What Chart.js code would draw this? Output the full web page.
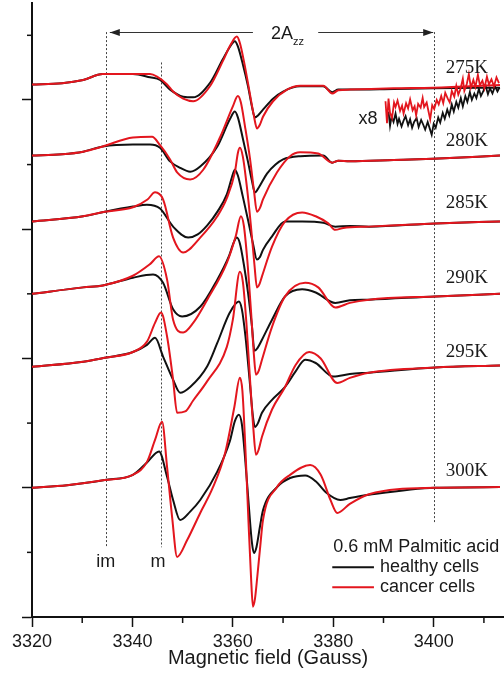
<!DOCTYPE html>
<html>
<head>
<meta charset="utf-8">
<script src="https://cdn.jsdelivr.net/npm/chart.js@4.4.1/dist/chart.umd.min.js"></script>
<style>
  html, body { margin: 0; padding: 0; background: #fff; }
</style>
</head>
<body>
<canvas id="chartEPR" width="504" height="675"></canvas>
<script>
// Datos: [campo (G), intensidad (u.a., desplazada por temperatura)]
const temperaturas = ['275K', '280K', '285K', '290K', '295K', '300K'];

const healthy275 = [[3320, 82.4], [3326, 82.6], [3330.2, 83.1], [3334.1, 84.0], [3340.1, 84.0], [3343.5, 83.5], [3345.5, 83.1], [3347.5, 81.6], [3350.1, 80.5], [3352.1, 80.4], [3355.5, 82.7], [3358.0, 86.3], [3359.4, 88.2], [3360.4, 89.1], [3361.0, 88.3], [3362.0, 85.5], [3363.0, 82.2], [3363.8, 79.0], [3364.4, 77.3], [3365.0, 77.6], [3366.0, 78.5], [3368.0, 80.2], [3370.0, 81.3], [3373.4, 82.1], [3378.0, 82.1], [3379.8, 81.2], [3381.0, 81.6], [3383.3, 81.6], [3392, 81.7], [3399.9, 81.8], [3413.2, 81.9]];
const cancer275 = [[3320, 82.4], [3326, 82.6], [3330.2, 83.1], [3334.1, 84.0], [3340.1, 84.0], [3343.5, 84.0], [3344.9, 83.6], [3346.9, 82.4], [3348.1, 81.3], [3350.1, 80.2], [3352.1, 79.8], [3355.5, 82.2], [3358.0, 86.0], [3359.6, 88.6], [3360.8, 89.8], [3361.4, 88.8], [3362.2, 86.0], [3363.2, 81.8], [3364.2, 77.5], [3364.8, 75.6], [3365.4, 76.2], [3366.0, 77.4], [3368.0, 79.8], [3370.8, 81.6], [3373.4, 82.2], [3378.0, 82.2], [3379.8, 81.0], [3381.0, 81.5], [3383.3, 81.6], [3392, 81.8], [3399.9, 81.9], [3413.2, 82.3]];

const healthy280 = [[3320, 71.4], [3326, 71.6], [3330.2, 72.0], [3334.1, 72.8], [3340.1, 73.1], [3343.5, 73.1], [3345.5, 72.6], [3347.5, 70.5], [3349.5, 69.5], [3351.5, 68.9], [3353.5, 69.7], [3356.9, 72.8], [3359.4, 77.0], [3360.4, 78.2], [3361.0, 77.3], [3362.0, 74.0], [3363.0, 70.5], [3363.8, 67.5], [3364.4, 65.7], [3365.2, 66.5], [3366.8, 68.6], [3368.5, 70.0], [3370.0, 70.8], [3373.4, 71.3], [3378.0, 71.4], [3379.8, 70.3], [3381.0, 70.6], [3383.3, 70.5], [3392, 70.7], [3399.9, 70.9], [3413.2, 71.4]];
const cancer280 = [[3320, 71.4], [3326, 71.6], [3330.2, 72.0], [3334.1, 72.8], [3340.1, 74.2], [3343.9, 74.3], [3345.5, 73.0], [3347.5, 70.8], [3348.9, 68.8], [3351.5, 67.7], [3354.1, 69.2], [3357.5, 74.3], [3360.0, 79.0], [3361.0, 80.6], [3361.6, 79.6], [3362.4, 76.0], [3363.4, 71.0], [3364.2, 66.0], [3364.8, 62.7], [3365.4, 63.3], [3366.0, 64.6], [3368.8, 68.8], [3371.4, 71.3], [3373.4, 71.9], [3377.0, 71.7], [3379.8, 70.3], [3381.0, 70.6], [3383.3, 70.5], [3392, 70.7], [3399.9, 70.9], [3413.2, 71.4]];

const healthy285 = [[3320, 61.2], [3330.2, 62.0], [3334.5, 62.7], [3340.1, 63.5], [3342.9, 63.8], [3345.5, 63.2], [3348.1, 60.4], [3351.1, 58.7], [3353.0, 59.2], [3354.9, 60.6], [3357.0, 62.8], [3358.8, 65.4], [3359.8, 68.0], [3360.4, 69.2], [3361.0, 68.3], [3362.0, 65.0], [3363.0, 61.5], [3364.0, 57.8], [3364.8, 55.3], [3365.4, 55.7], [3366.0, 56.8], [3367.8, 58.9], [3370.4, 61.2], [3373.8, 61.2], [3378.0, 61.0], [3380.4, 60.4], [3383.3, 60.5], [3387.1, 60.4], [3400.3, 60.9], [3413.2, 61.2]];
const cancer285 = [[3320, 61.2], [3330.2, 62.0], [3334.5, 62.7], [3340.1, 63.4], [3343.0, 64.6], [3344.5, 65.7], [3346.1, 64.6], [3348.1, 58.7], [3350.1, 56.4], [3353.5, 58.7], [3356.9, 62.0], [3358.8, 64.8], [3360.4, 68.8], [3361.0, 71.8], [3361.4, 72.6], [3362.0, 71.2], [3362.8, 66.5], [3363.6, 60.5], [3364.3, 54.5], [3364.8, 51.0], [3365.3, 51.5], [3365.8, 52.7], [3367.8, 57.3], [3370.4, 61.2], [3373.8, 62.6], [3376.5, 62.0], [3379.0, 60.9], [3380.4, 59.9], [3382.0, 60.2], [3387.1, 60.4], [3400.3, 60.9], [3413.2, 61.2]];

const healthy290 = [[3320, 50.0], [3330.2, 51.0], [3334.1, 51.3], [3340.1, 52.5], [3344.1, 53.0], [3346.1, 51.7], [3348.1, 47.6], [3349.9, 46.5], [3353.5, 48.0], [3356.9, 52.2], [3359.2, 55.8], [3360.2, 58.0], [3360.8, 58.7], [3361.4, 57.8], [3362.2, 54.5], [3363.0, 50.3], [3363.8, 45.0], [3364.3, 41.2], [3364.9, 41.6], [3365.8, 42.9], [3367.8, 46.0], [3370.4, 49.6], [3373.8, 50.7], [3376.5, 50.2], [3380.4, 48.6], [3383.3, 49.0], [3387.1, 49.1], [3400.3, 49.6], [3413.2, 50.0]];
const cancer290 = [[3320, 50.0], [3330.2, 51.0], [3334.1, 51.3], [3340.1, 52.8], [3343.5, 54.6], [3345.3, 55.8], [3346.9, 52.2], [3348.1, 46.0], [3350.1, 44.0], [3352.1, 45.5], [3354.9, 49.1], [3358.8, 54.8], [3360.6, 59.0], [3361.6, 62.0], [3362.2, 60.5], [3362.9, 55.0], [3363.6, 47.5], [3364.2, 40.5], [3364.6, 37.5], [3365.1, 38.0], [3365.8, 39.8], [3367.8, 44.9], [3370.4, 49.6], [3374.4, 51.7], [3377.0, 51.0], [3380.4, 47.9], [3383.3, 48.6], [3387.1, 49.1], [3400.3, 49.6], [3413.2, 50.0]];

const healthy295 = [[3320, 38.7], [3330.2, 39.5], [3334.5, 40.1], [3340.1, 41.0], [3342.9, 42.1], [3344.5, 43.2], [3346.1, 40.3], [3348.1, 36.7], [3349.5, 34.7], [3351.5, 35.6], [3354.9, 38.8], [3356.9, 42.4], [3359.4, 47.1], [3361.2, 48.8], [3361.8, 47.6], [3362.5, 43.5], [3363.3, 37.0], [3364.0, 31.0], [3364.4, 29.4], [3365.0, 30.0], [3365.8, 31.6], [3367.8, 33.6], [3370.4, 35.6], [3372.5, 38.0], [3374.4, 39.8], [3376.5, 39.3], [3380.0, 37.2], [3383.3, 37.6], [3387.1, 37.8], [3400.3, 38.6], [3413.2, 38.9]];
const cancer295 = [[3320, 38.7], [3330.2, 39.5], [3334.5, 40.1], [3340.1, 41.0], [3342.9, 42.6], [3344.5, 45.5], [3345.7, 47.1], [3346.9, 43.4], [3348.1, 36.7], [3348.9, 31.6], [3350.5, 31.8], [3352.1, 33.5], [3354.9, 36.5], [3358.8, 41.8], [3360.0, 46.0], [3361.4, 53.4], [3362.0, 51.8], [3362.7, 45.5], [3363.4, 37.0], [3364.1, 29.0], [3364.6, 25.1], [3365.1, 25.8], [3365.8, 27.9], [3367.8, 32.1], [3370.4, 35.6], [3372.5, 39.0], [3375.2, 41.0], [3377.5, 40.0], [3380.8, 36.2], [3383.3, 37.0], [3387.1, 37.8], [3400.3, 38.6], [3413.2, 38.9]];

const healthy300 = [[3320, 20.0], [3327, 20.4], [3334.5, 21.2], [3340.1, 22.0], [3342.9, 23.9], [3345.3, 25.6], [3346.9, 21.7], [3348.1, 18.1], [3349.5, 15.0], [3351.5, 16.3], [3353.5, 18.1], [3356.9, 22.5], [3359.4, 27.2], [3360.4, 30.3], [3361.2, 31.3], [3361.8, 29.8], [3362.5, 24.0], [3363.2, 17.0], [3363.8, 11.5], [3364.2, 9.9], [3364.7, 10.8], [3365.4, 14.0], [3366.0, 16.5], [3368.8, 20.1], [3371.4, 21.5], [3374.4, 21.9], [3376.5, 21.0], [3378.5, 19.3], [3381.4, 18.1], [3383.3, 18.4], [3387.1, 18.9], [3400.3, 20.0], [3413.2, 20.1]];
const cancer300 = [[3320, 20.0], [3327, 20.4], [3334.5, 21.2], [3340.1, 22.0], [3342.9, 24.0], [3344.5, 27.4], [3345.9, 30.2], [3346.9, 23.2], [3347.9, 15.5], [3348.9, 9.3], [3350.9, 11.9], [3353.5, 16.1], [3356.0, 20.0], [3358.5, 25.5], [3360.3, 32.5], [3361.4, 37.0], [3361.9, 35.0], [3362.5, 26.0], [3363.1, 15.0], [3363.6, 6.5], [3364.0, 1.6], [3364.4, 2.8], [3364.9, 6.5], [3365.4, 10.5], [3366.0, 15.0], [3368.8, 20.1], [3371.4, 22.0], [3375.4, 23.5], [3377.5, 22.0], [3379.5, 18.0], [3380.8, 16.1], [3383.3, 17.5], [3387.1, 19.0], [3400.3, 20.0], [3413.2, 20.1]];

// Ampliacion x8 (zona de campo alto, 275K)
const healthyX8 = [[3391.0, 78.2], [3391.3, 76.0], [3391.6, 77.4], [3392.0, 76.6], [3392.4, 77.9], [3392.8, 76.3], [3393.1, 77.1], [3393.6, 75.9], [3394.0, 76.8], [3394.4, 77.5], [3394.9, 76.1], [3395.3, 77.0], [3395.7, 75.7], [3396.1, 76.6], [3396.6, 77.2], [3397.0, 75.8], [3397.5, 76.9], [3397.9, 76.2], [3398.3, 75.4], [3398.8, 76.6], [3399.2, 75.6], [3399.6, 74.6], [3400.0, 76.3], [3400.4, 75.7], [3400.9, 77.3], [3401.3, 76.5], [3401.8, 78.0], [3402.2, 77.1], [3402.7, 78.5], [3403.1, 77.6], [3403.6, 79.3], [3404.0, 78.2], [3404.5, 79.7], [3404.9, 78.8], [3405.4, 80.3], [3405.8, 79.0], [3406.3, 80.6], [3406.7, 79.7], [3407.2, 81.2], [3407.6, 80.0], [3408.1, 81.0], [3408.5, 80.3], [3409.0, 81.7], [3409.4, 80.6], [3409.9, 81.4], [3410.3, 82.3], [3410.8, 80.9], [3411.2, 81.8], [3411.7, 81.0], [3412.2, 82.1], [3412.7, 81.3], [3413.1, 81.9]];
const cancerX8 = [[3390.4, 79.8], [3390.7, 76.4], [3391.0, 80.2], [3391.3, 78.0], [3391.7, 77.2], [3392.1, 79.6], [3392.4, 78.9], [3392.8, 79.9], [3393.3, 78.3], [3393.7, 79.1], [3394.0, 77.9], [3394.5, 79.5], [3394.9, 78.7], [3395.3, 80.1], [3395.8, 78.4], [3396.2, 79.0], [3396.5, 77.6], [3396.9, 79.4], [3397.4, 78.8], [3397.8, 80.3], [3398.1, 78.9], [3398.6, 79.6], [3399.0, 78.1], [3399.3, 77.0], [3399.7, 79.2], [3400.1, 78.6], [3400.6, 80.0], [3401.0, 79.3], [3401.5, 80.6], [3401.9, 79.5], [3402.3, 81.1], [3402.8, 80.2], [3403.2, 79.6], [3403.6, 81.4], [3404.1, 80.5], [3404.5, 82.2], [3404.9, 80.8], [3405.3, 81.6], [3405.8, 83.3], [3406.1, 81.4], [3406.6, 82.5], [3407.0, 84.0], [3407.4, 81.9], [3407.9, 83.1], [3408.3, 82.0], [3408.8, 83.9], [3409.2, 82.3], [3409.7, 83.0], [3410.1, 81.8], [3410.6, 83.6], [3411.0, 82.4], [3411.5, 83.2], [3412.0, 82.1], [3412.5, 83.5], [3413.0, 82.6]];

const healthySeries = [healthy275, healthy280, healthy285, healthy290, healthy295, healthy300];
const cancerSeries = [cancer275, cancer280, cancer285, cancer290, cancer295, cancer300];

// posiciones de anotaciones (en unidades de datos)
const etiquetaTempY = [85.0, 73.7, 64.0, 52.4, 41.0, 22.6];
const etiquetaTempX = 3406.6;
const lineasGuia = [
    { campo: 3334.7, arriba: 90.5, abajo: 10.7 },
    { campo: 3345.7, arriba: 85.8, abajo: 10.8 },
    { campo: 3400.0, arriba: 90.5, abajo: 14.6 }
];

const ROJO = '#e3161e';
const NEGRO = '#111111';

Chart.defaults.font.family = "'Liberation Sans', Arial, sans-serif";
Chart.defaults.color = '#1a1a1a';

const aPuntos = arr => arr.map(p => ({ x: p[0], y: p[1] }));

const datasets = [];
cancerSeries.forEach((s, i) => datasets.push({
    label: 'cancer ' + temperaturas[i], data: aPuntos(s), borderColor: ROJO,
    borderWidth: 2, pointRadius: 0, cubicInterpolationMode: 'monotone', order: 0
}));
healthySeries.forEach((s, i) => datasets.push({
    label: 'healthy ' + temperaturas[i], data: aPuntos(s), borderColor: NEGRO,
    borderWidth: 2, pointRadius: 0, cubicInterpolationMode: 'monotone', order: 1
}));
datasets.push({ label: 'cancer x8', data: aPuntos(cancerX8), borderColor: ROJO, borderWidth: 1.8, pointRadius: 0, tension: 0, order: 0 });
datasets.push({ label: 'healthy x8', data: aPuntos(healthyX8), borderColor: NEGRO, borderWidth: 1.8, pointRadius: 0, tension: 0, order: 1 });

function dibujarFlecha(ctx, x1, x2, yy) {
    ctx.beginPath();
    ctx.moveTo(x1, yy);
    ctx.lineTo(x2, yy);
    ctx.stroke();
    const d = x2 > x1 ? 1 : -1;
    ctx.beginPath();
    ctx.moveTo(x2, yy);
    ctx.lineTo(x2 - d * 10, yy - 3.5);
    ctx.lineTo(x2 - d * 10, yy + 3.5);
    ctx.closePath();
    ctx.fill();
}

const anotaciones = {
    id: 'anotaciones',
    beforeDatasetsDraw(chart) {
        const { ctx, scales: { x, y } } = chart;
        ctx.save();
        ctx.strokeStyle = '#444';
        ctx.lineWidth = 1;
        ctx.setLineDash([2, 2]);
        lineasGuia.forEach(l => {
            const px = Math.round(x.getPixelForValue(l.campo)) + 0.5;
            ctx.beginPath();
            ctx.moveTo(px, y.getPixelForValue(l.arriba));
            ctx.lineTo(px, y.getPixelForValue(l.abajo));
            ctx.stroke();
        });
        ctx.restore();
    },
    afterDatasetsDraw(chart) {
        const { ctx, scales: { x, y } } = chart;
        ctx.save();

        // flecha 2Azz
        ctx.strokeStyle = '#333';
        ctx.fillStyle = '#222';
        ctx.lineWidth = 1;
        const yf = Math.round(y.getPixelForValue(90.5)) + 0.5;
        dibujarFlecha(ctx, x.getPixelForValue(3364.0), x.getPixelForValue(3335.5), yf);
        dibujarFlecha(ctx, x.getPixelForValue(3377.0), x.getPixelForValue(3399.9), yf);

        ctx.fillStyle = '#1a1a1a';
        ctx.textBaseline = 'alphabetic';
        ctx.textAlign = 'left';
        ctx.font = "18px 'Liberation Sans'";
        const x2A = x.getPixelForValue(3367.6);
        ctx.fillText('2A', x2A, y.getPixelForValue(89.5));
        const w2A = ctx.measureText('2A').width;
        ctx.font = "11px 'Liberation Sans'";
        ctx.fillText('zz', x2A + w2A, y.getPixelForValue(88.5));

        // temperaturas
        ctx.font = "19px 'Liberation Serif'";
        ctx.textAlign = 'center';
        ctx.textBaseline = 'middle';
        temperaturas.forEach((t, i) => {
            ctx.fillText(t, x.getPixelForValue(etiquetaTempX), y.getPixelForValue(etiquetaTempY[i]));
        });

        ctx.font = "18px 'Liberation Sans'";
        ctx.fillText('x8', x.getPixelForValue(3386.9), y.getPixelForValue(77.0));
        ctx.fillText('im', x.getPixelForValue(3334.7), y.getPixelForValue(8.5));
        ctx.fillText('m', x.getPixelForValue(3345.1), y.getPixelForValue(8.5));

        // leyenda
        ctx.textAlign = 'left';
        ctx.fillText('0.6 mM Palmitic acid', x.getPixelForValue(3380.0), y.getPixelForValue(10.8));
        const leyenda = [{ txt: 'healthy cells', color: NEGRO, v: 7.7 }, { txt: 'cancer cells', color: ROJO, v: 4.6 }];
        leyenda.forEach(l => {
            const py = y.getPixelForValue(l.v);
            ctx.strokeStyle = l.color;
            ctx.lineWidth = 2;
            ctx.beginPath();
            ctx.moveTo(x.getPixelForValue(3379.8), py);
            ctx.lineTo(x.getPixelForValue(3388.1), py);
            ctx.stroke();
            ctx.fillText(l.txt, x.getPixelForValue(3389.3), py);
        });
        ctx.restore();
    },
    afterDraw(chart) {
        // ticks menores
        const { ctx, scales: { x, y }, chartArea } = chart;
        ctx.save();
        ctx.strokeStyle = '#111';
        ctx.lineWidth = 1.5;
        [3330, 3350, 3370, 3390, 3410].forEach(v => {
            const px = x.getPixelForValue(v);
            ctx.beginPath();
            ctx.moveTo(px, chartArea.bottom);
            ctx.lineTo(px, chartArea.bottom + 6);
            ctx.stroke();
        });
        [10, 30, 50, 70, 90].forEach(v => {
            const py = y.getPixelForValue(v);
            ctx.beginPath();
            ctx.moveTo(chartArea.left - 5, py);
            ctx.lineTo(chartArea.left, py);
            ctx.stroke();
        });
        ctx.restore();
    }
};

new Chart(document.getElementById('chartEPR'), {
    type: 'line',
    data: { datasets: datasets },
    options: {
        responsive: false,
        animation: false,
        parsing: false,
        layout: { padding: { top: 3, right: 0, left: 0, bottom: 0 } },
        plugins: { legend: { display: false }, tooltip: { enabled: false } },
        scales: {
            x: {
                type: 'linear', min: 3320, max: 3414,
                afterBuildTicks: s => { s.ticks = s.ticks.filter(t => t.value % 10 === 0); },
                afterFit: s => { s.height = 58; },
                ticks: {
                    stepSize: 10, padding: 4, maxRotation: 0, autoSkip: false,
                    font: { size: 18 }, color: '#1a1a1a',
                    callback: v => (v % 20 === 0 ? String(v) : '')
                },
                grid: {
                    drawOnChartArea: false, tickLength: 10, tickWidth: 1.5,
                    tickColor: c => (c.tick && c.tick.value % 20 === 0 ? '#111' : 'rgba(0,0,0,0)')
                },
                border: { color: '#111', width: 2 },
                title: { display: true, text: 'Magnetic field (Gauss)', font: { size: 20 }, color: '#1a1a1a', padding: { top: 0, bottom: 5 } }
            },
            y: {
                type: 'linear', min: 0, max: 95,
                afterBuildTicks: s => { s.ticks = s.ticks.filter(t => t.value % 10 === 0); },
                afterFit: s => { s.width = 32; },
                ticks: { display: false, stepSize: 10 },
                grid: {
                    drawOnChartArea: false, tickLength: 10, tickWidth: 1.5,
                    tickColor: c => (c.tick && c.tick.value % 20 === 0 ? '#111' : 'rgba(0,0,0,0)')
                },
                border: { color: '#111', width: 2 }
            }
        }
    },
    plugins: [anotaciones]
});
</script>
</body>
</html>
